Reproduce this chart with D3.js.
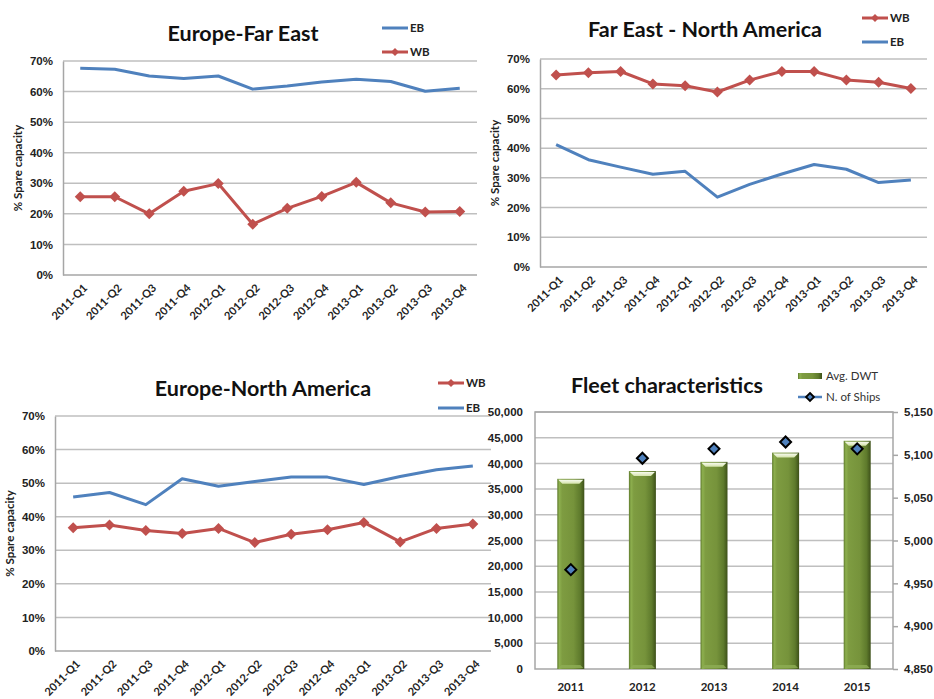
<!DOCTYPE html>
<html>
<head>
<meta charset="utf-8">
<script src="https://cdn.jsdelivr.net/npm/d3@7/dist/d3.min.js"></script>
<style>
  html, body { margin: 0; padding: 0; background: #ffffff; }
  svg { display: block; font-family: Lato, "Open Sans", sans-serif; }
</style>
</head>
<body>
<svg id="chart" width="934" height="699"></svg>
<script>
// Quarterly spare-capacity series (% of capacity) per trade lane
const quarters = ["2011-Q1","2011-Q2","2011-Q3","2011-Q4","2012-Q1","2012-Q2","2012-Q3","2012-Q4","2013-Q1","2013-Q2","2013-Q3","2013-Q4"];

const efeEB = [67.6, 67.3, 65.1, 64.3, 65.1, 60.8, 61.8, 63.1, 64.0, 63.3, 60.1, 61.1];
const efeWB = [25.6, 25.6, 20.0, 27.4, 29.9, 16.6, 21.8, 25.7, 30.3, 23.6, 20.6, 20.8];

const fenaWB = [64.6, 65.4, 65.8, 61.6, 61.0, 58.9, 62.9, 65.8, 65.8, 62.9, 62.2, 60.1];
const fenaEB = [41.2, 36.1, 33.6, 31.2, 32.2, 23.5, 27.8, 31.3, 34.5, 32.9, 28.4, 29.3];

const enaWB = [36.7, 37.5, 35.9, 35.0, 36.5, 32.3, 34.8, 36.1, 38.3, 32.5, 36.5, 37.8];
const enaEB = [45.9, 47.2, 43.6, 51.3, 49.1, 50.5, 51.8, 51.8, 49.6, 52.0, 54.0, 55.1];

const pctTicks = [0, 10, 20, 30, 40, 50, 60, 70];

// Fleet characteristics
const years = ["2011", "2012", "2013", "2014", "2015"];
const avgDwt = [37000, 38500, 40300, 42100, 44400];
const ships = [4966, 5096, 5107, 5115, 5107];
const dwtTicks = d3.range(0, 50001, 5000);
const shipTicks = d3.range(4850, 5151, 50);

const BLUE = "#4F81BD", RED = "#C0504D", GRID = "#BFBFBF", AXIS = "#A6A6A6";
const svg = d3.select("#chart");

const diamond = r => `M0,${-r}L${r},0L0,${r}L${-r},0Z`;

// Gradient for the bevelled bars
const defs = svg.append("defs");
const g1 = defs.append("linearGradient").attr("id", "barGrad").attr("x1", 0).attr("x2", 1).attr("y1", 0).attr("y2", 0);
[[0, "#5E7A2C"], [0.08, "#8DAF4E"], [0.18, "#7E9C41"], [0.6, "#76933B"], [0.85, "#5E7A2C"], [1, "#3D5019"]]
  .forEach(([o, c]) => g1.append("stop").attr("offset", o).attr("stop-color", c));
const g2 = defs.append("linearGradient").attr("id", "capGrad").attr("x1", 0).attr("x2", 0).attr("y1", 0).attr("y2", 1);
[[0, "#F7FAEF"], [1, "#D3E2A8"]].forEach(([o, c]) => g2.append("stop").attr("offset", o).attr("stop-color", c));

function legendLine(g, x, y, color, label, marker) {
  g.append("line").attr("x1", x).attr("x2", x + 26).attr("y1", y).attr("y2", y)
    .attr("stroke", color).attr("stroke-width", 3);
  if (marker) g.append("path").attr("d", diamond(4)).attr("transform", `translate(${x + 13},${y})`).attr("fill", color);
  g.append("text").attr("x", x + 28).attr("y", y).attr("dy", "0.35em")
    .attr("font-size", 11.5).attr("font-weight", 700).attr("fill", "#222").text(label);
}

function linePanel(cfg) {
  const g = svg.append("g");
  const x = d3.scalePoint().domain(quarters).range([cfg.left, cfg.right]).padding(0.5);
  const y = d3.scaleLinear().domain([0, 70]).range([cfg.bottom, cfg.top]);

  // gridlines
  g.selectAll(".grid").data(pctTicks.slice(1)).join("line")
    .attr("x1", cfg.left).attr("x2", cfg.right)
    .attr("y1", d => y(d)).attr("y2", d => y(d))
    .attr("stroke", GRID).attr("stroke-width", 1.5);

  // axes
  const yAxis = g.append("g").attr("transform", `translate(${cfg.left},0)`)
    .call(d3.axisLeft(y).tickValues(pctTicks).tickFormat(d => d + "%").tickSize(0).tickPadding(10));
  yAxis.select(".domain").attr("stroke", AXIS).attr("stroke-width", 1.5);
  yAxis.selectAll("text").attr("font-size", 11.5).attr("font-weight", 700).attr("fill", "#222").attr("font-family", null);

  g.append("line").attr("x1", cfg.left).attr("x2", cfg.right).attr("y1", cfg.bottom).attr("y2", cfg.bottom)
    .attr("stroke", AXIS).attr("stroke-width", 1.5);

  g.selectAll(".xl").data(quarters).join("text")
    .attr("transform", d => `translate(${x(d) + 5},${cfg.bottom + 11}) rotate(-45)`)
    .attr("text-anchor", "end").attr("dy", "0.35em")
    .attr("font-size", 11).attr("font-weight", 700).attr("fill", "#222").text(d => d);

  // y title
  g.append("text").attr("transform", `translate(${cfg.ytx},${(cfg.top + cfg.bottom) / 2}) rotate(-90)`)
    .attr("text-anchor", "middle").attr("dy", "0.35em")
    .attr("font-size", 11.5).attr("font-weight", 700).attr("fill", "#222").text("% Spare capacity");

  // title
  g.append("text").attr("x", cfg.tx).attr("y", cfg.ty).attr("text-anchor", "middle").attr("dy", "0.35em")
    .attr("font-size", 21.5).attr("font-weight", 700).attr("fill", "#111").text(cfg.title);

  const line = d3.line().x((d, i) => x(quarters[i])).y(d => y(d));
  g.append("path").datum(cfg.eb).attr("d", line).attr("fill", "none")
    .attr("stroke", BLUE).attr("stroke-width", 3).attr("stroke-linejoin", "round");
  g.append("path").datum(cfg.wb).attr("d", line).attr("fill", "none")
    .attr("stroke", RED).attr("stroke-width", 3).attr("stroke-linejoin", "round");
  g.selectAll(".m").data(cfg.wb).join("path")
    .attr("d", diamond(5.5))
    .attr("transform", (d, i) => `translate(${x(quarters[i])},${y(d)})`)
    .attr("fill", RED);

  cfg.legend.forEach(l => legendLine(g, cfg.lx, l.y, l.s === "WB" ? RED : BLUE, l.s, l.s === "WB"));
}

linePanel({
  title: "Europe-Far East", tx: 243, ty: 33,
  left: 63, right: 477, top: 61, bottom: 275, ytx: 18,
  eb: efeEB, wb: efeWB, lx: 382,
  legend: [{ s: "EB", y: 28 }, { s: "WB", y: 52 }]
});

linePanel({
  title: "Far East - North America", tx: 705, ty: 29,
  left: 540, right: 927, top: 59, bottom: 267, ytx: 495,
  eb: fenaEB, wb: fenaWB, lx: 862,
  legend: [{ s: "WB", y: 18 }, { s: "EB", y: 42 }]
});

linePanel({
  title: "Europe-North America", tx: 263, ty: 388,
  left: 55, right: 491, top: 416, bottom: 651, ytx: 10,
  eb: enaEB, wb: enaWB, lx: 438,
  legend: [{ s: "WB", y: 383 }, { s: "EB", y: 408 }]
});

// Fleet characteristics: bars on the left axis, ship counts on the right axis
(function fleetPanel() {
  const P = { left: 535, right: 893, top: 412, bottom: 669 };
  const g = svg.append("g");
  const x = d3.scaleBand().domain(years).range([P.left, P.right]);
  const yL = d3.scaleLinear().domain([0, 50000]).range([P.bottom, P.top]);
  const yR = d3.scaleLinear().domain([4850, 5150]).range([P.bottom, P.top]);
  const bw = 27;

  g.selectAll(".grid").data(dwtTicks.slice(1)).join("line")
    .attr("x1", P.left).attr("x2", P.right)
    .attr("y1", d => yL(d)).attr("y2", d => yL(d))
    .attr("stroke", GRID).attr("stroke-width", 1.5);
  g.append("rect").attr("x", P.left).attr("y", P.top).attr("width", P.right - P.left).attr("height", P.bottom - P.top)
    .attr("fill", "none").attr("stroke", AXIS).attr("stroke-width", 1.5);

  const axL = g.append("g").attr("transform", `translate(${P.left},0)`)
    .call(d3.axisLeft(yL).tickValues(dwtTicks).tickFormat(d3.format(",")).tickSize(0).tickPadding(12));
  axL.select(".domain").remove();
  axL.selectAll("text").attr("font-size", 11.5).attr("font-weight", 700).attr("fill", "#222").attr("font-family", null);

  const axR = g.append("g").attr("transform", `translate(${P.right},0)`)
    .call(d3.axisRight(yR).tickValues(shipTicks).tickFormat(d3.format(",")).tickSize(5).tickPadding(6));
  axR.select(".domain").remove();
  axR.selectAll("line").attr("stroke", AXIS).attr("stroke-width", 1.5);
  axR.selectAll("text").attr("font-size", 11.5).attr("font-weight", 700).attr("fill", "#222").attr("font-family", null);

  g.selectAll(".xl").data(years).join("text")
    .attr("x", d => x(d) + x.bandwidth() / 2).attr("y", 687).attr("dy", "0.35em")
    .attr("text-anchor", "middle").attr("font-size", 11.5).attr("font-weight", 700).attr("fill", "#222").text(d => d);

  const bars = g.selectAll(".bar").data(years).join("g")
    .attr("transform", (d, i) => `translate(${x(d) + x.bandwidth() / 2 - bw / 2},0)`);
  bars.append("rect").attr("x", 0).attr("width", bw)
    .attr("y", (d, i) => yL(avgDwt[i])).attr("height", (d, i) => P.bottom - yL(avgDwt[i]))
    .attr("fill", "url(#barGrad)");
  // bevel highlights at the top and bottom of each bar
  bars.append("path")
    .attr("d", (d, i) => { const t = yL(avgDwt[i]); return `M1,${t + 1}L${bw - 1},${t + 1}L${bw - 5},${t + 5}L5,${t + 5}Z`; })
    .attr("fill", "url(#capGrad)");
  bars.append("path")
    .attr("d", `M4,${P.bottom - 4}L${bw - 4},${P.bottom - 4}L${bw - 1},${P.bottom - 1}L1,${P.bottom - 1}Z`)
    .attr("fill", "#8FAE55").attr("opacity", 0.8);

  g.selectAll(".ship").data(ships).join("path")
    .attr("d", diamond(5.5))
    .attr("transform", (d, i) => `translate(${x(years[i]) + x.bandwidth() / 2},${yR(d)})`)
    .attr("fill", BLUE).attr("stroke", "#000").attr("stroke-width", 2);

  g.append("text").attr("x", 667).attr("y", 385).attr("text-anchor", "middle").attr("dy", "0.35em")
    .attr("font-size", 21.5).attr("font-weight", 700).attr("fill", "#111").text("Fleet characteristics");

  // legend
  g.append("rect").attr("x", 798).attr("y", 373).attr("width", 24).attr("height", 6).attr("fill", "url(#barGrad)");
  g.append("text").attr("x", 826).attr("y", 376).attr("dy", "0.35em").attr("font-size", 11.5).attr("fill", "#333").text("Avg. DWT");
  g.append("line").attr("x1", 798).attr("x2", 822).attr("y1", 397).attr("y2", 397).attr("stroke", BLUE).attr("stroke-width", 2.5);
  g.append("path").attr("d", diamond(4)).attr("transform", "translate(810,397)")
    .attr("fill", BLUE).attr("stroke", "#000").attr("stroke-width", 1.8);
  g.append("text").attr("x", 826).attr("y", 397).attr("dy", "0.35em").attr("font-size", 11.5).attr("fill", "#333").text("N. of Ships");
})();
</script>
</body>
</html>
